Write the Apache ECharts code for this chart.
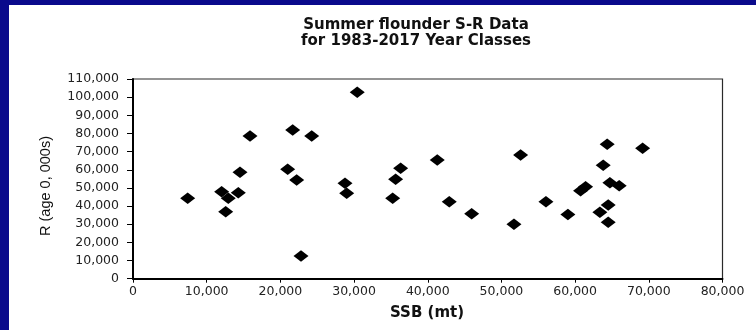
<!DOCTYPE html>
<html>
<head>
<meta charset="utf-8">
<script src="https://cdn.jsdelivr.net/npm/echarts@6/dist/echarts.min.js"></script>
<style>
html,body{margin:0;padding:0;background:#fff;}
#chart{width:756px;height:330px;}
</style>
</head>
<body>
<div id="chart"></div>
<script>
// SSB (mt) and recruitment R (age 0, 000s), 1983-2017 year classes
var ssb = [7420, 12030, 12930, 14290, 12580, 14520, 15880, 21670, 24250, 20990, 22210, 22800,
           30430, 28770, 29000,
           35240, 35640, 36320, 41290, 42920, 45960, 51700, 52600, 56040, 59020,
           60740, 61420, 63360, 64490, 64490, 63810, 64350, 64720, 65980, 69160];
var recruits = [44300, 47900, 44300, 47400, 36900, 58600, 78600, 81900, 78600, 60300, 54400, 12500,
                102700, 52600, 47000,
                44300, 54800, 60800, 65400, 42400, 35800, 30000, 68200, 42400, 35300,
                48500, 50700, 36600, 40600, 31100, 62500, 74000, 52900, 51200, 71800];
var titleLines = ['Summer flounder S-R Data', 'for 1983-2017 Year Classes'];
var xTitle = 'SSB (mt)';
var yTitle = 'R (age 0, 000s)';
var xMax = 80000, yMax = 110000, tickStep = 10000;

var points = ssb.map(function (v, i) { return [v, recruits[i]]; });
var fmt = function (v) { return v.toLocaleString('en-US'); };

var chart = echarts.init(document.getElementById('chart'), null, {renderer: 'canvas'});
chart.setOption({
  backgroundColor: '#ffffff',
  animation: false,
  grid: {left: 133, right: 33.5, top: 79, bottom: 51.3, show: true,
         borderColor: '#2a2a2a', borderWidth: 1.2, backgroundColor: 'transparent'},
  xAxis: {
    type: 'value', min: 0, max: xMax, interval: tickStep,
    axisLine: {show: true, onZero: false, lineStyle: {color: '#000', width: 2}},
    axisTick: {show: true, length: 4, lineStyle: {color: '#000', width: 1}},
    axisLabel: {formatter: fmt, margin: 7, color: '#222', fontFamily: 'DejaVu Sans', fontSize: 12.5},
    splitLine: {show: false}
  },
  yAxis: {
    type: 'value', min: 0, max: yMax, interval: tickStep,
    axisLine: {show: true, onZero: false, lineStyle: {color: '#000', width: 2}},
    axisTick: {show: true, length: 6, lineStyle: {color: '#000', width: 1}},
    axisLabel: {formatter: fmt, margin: 14, color: '#222', fontFamily: 'DejaVu Sans', fontSize: 12.5},
    splitLine: {show: false}
  },
  graphic: [
    {type: 'rect', z: 100, shape: {x: 0, y: 0, width: 756, height: 5}, style: {fill: '#0a0a8c'}},
    {type: 'rect', z: 100, shape: {x: 0, y: 0, width: 9, height: 330}, style: {fill: '#0a0a8c'}},
    {type: 'text', z: 100, style: {text: titleLines.join('\n'), x: 416, y: 17, textAlign: 'center',
      textVerticalAlign: 'top', font: 'bold 15px "DejaVu Sans"', lineHeight: 16, fill: '#111'}},
    {type: 'text', z: 100, style: {text: xTitle, x: 427, y: 313, textAlign: 'center',
      textVerticalAlign: 'middle', font: 'bold 15px "DejaVu Sans"', fill: '#111'}},
    {type: 'text', z: 100, x: 46, y: 186, rotation: Math.PI / 2,
      style: {text: yTitle, x: 0, y: 0, textAlign: 'center', textVerticalAlign: 'middle',
      font: '14.5px "Liberation Sans"', fill: '#111'}}
  ],
  series: [{
    type: 'scatter',
    data: points,
    symbol: 'diamond',
    symbolSize: [15, 11.5],
    itemStyle: {color: '#000', opacity: 1}
  }]
});
</script>
</body>
</html>
